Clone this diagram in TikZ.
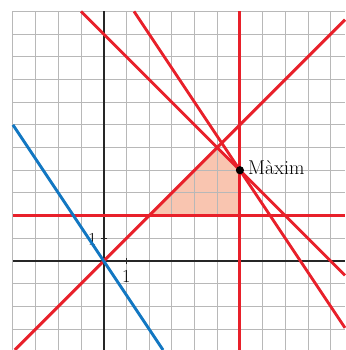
\documentclass[tikz,border=0pt]{standalone}
\usepackage{tikz}
\usetikzlibrary{positioning}

\definecolor{gridgrey}{HTML}{B8B8B8}
\definecolor{linered}{HTML}{E8202A}
\definecolor{lineblue}{HTML}{1277C2}
\definecolor{regionfill}{HTML}{F9C5B0}

\begin{document}
\begin{tikzpicture}[
  font=\fontsize{23}{28}\selectfont,
  gridline/.style={draw=gridgrey, line width=1.1pt},
  axisline/.style={draw=black!85, line width=2pt},
  redline/.style={draw=linered, line width=3.6pt},
  blueline/.style={draw=lineblue, line width=3.6pt},
  region/.style={fill=regionfill, draw=none},
  tickmark/.style={draw=black!85, line width=1.8pt},
  lbl/.style={inner sep=0pt},
]
\useasboundingbox (-4.57,-3.92) rectangle (10.63,11.5);

% vertices of the feasible region
\coordinate (A) at (2,2);
\coordinate (B) at (6,2);
\coordinate (M) at (6,4);
\coordinate (C) at (5,5);

\fill[region] (A) -- (B) -- (M) -- (C) -- cycle;

\draw[gridline] (-4,-3.92) grid (10.63,11);

% axes
\draw[axisline] (-4,0) -- (10.63,0);
\draw[axisline] (0,11) -- (0,-3.92);
\draw[tickmark] (1,-0.15) -- (1,0.15);
\draw[tickmark] (-0.12,1) -- (0.15,1);
\node[lbl] (xone) at (1,-0.68) {1};
\node[lbl] (yone) at (-0.5,0.97) {1};

% constraints
\draw[redline] (6,11) -- (6,-3.92);
\draw[redline] (-4,2) -- (10.63,2);
\draw[redline] (-3.92,-3.92) -- (10.63,10.63);
\draw[redline] (-1,11) -- (10.63,-0.63);
\draw[redline] (4/3,11) -- (10.63,-2.945);

% level line
\draw[blueline] (-4,6) -- (2.613,-3.92);

\fill[black] (M) circle (0.18);
\node[lbl, anchor=base west, font=\fontsize{25}{30}\selectfont] (max) at (6.36,3.79) {Màxim};
\end{tikzpicture}
\end{document}
